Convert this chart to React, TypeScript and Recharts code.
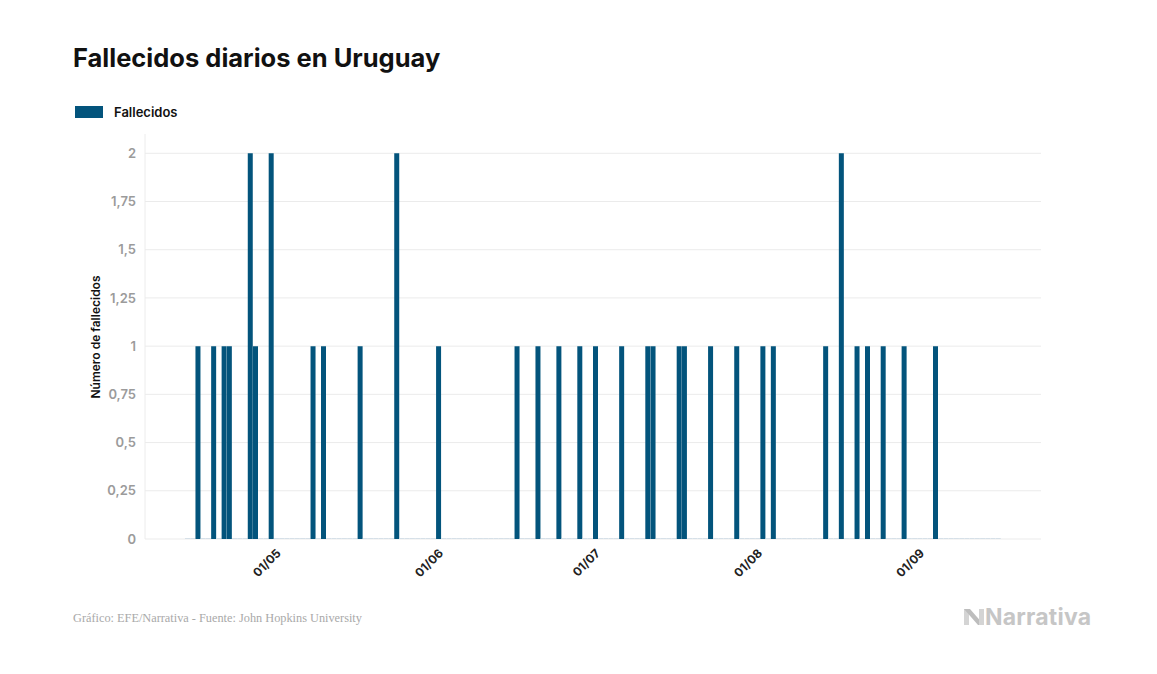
import { BarChart, Bar, XAxis, YAxis, CartesianGrid, Cell } from 'recharts';

// Fallecidos por día, 13/04 al 15/09
const MONTHS = ['04', '05', '06', '07', '08', '09'];
const FIRST_DAY = [13, 1, 1, 1, 1, 1];

const DEATHS_APR = [0, 0, 1, 0, 0, 1, 0, 1, 1, 0, 0, 0, 2, 1, 0, 0, 2, 0];
const DEATHS_MAY = [
  0, 0, 0, 0, 0, 0, 1, 0, 1, 0,
  0, 0, 0, 0, 0, 1, 0, 0, 0, 0,
  0, 0, 2, 0, 0, 0, 0, 0, 0, 0,
  1,
];
const DEATHS_JUN = [
  0, 0, 0, 0, 0, 0, 0, 0, 0, 0,
  0, 0, 0, 0, 1, 0, 0, 0, 1, 0,
  0, 0, 1, 0, 0, 0, 1, 0, 0, 1,
];
const DEATHS_JUL = [
  0, 0, 0, 0, 1, 0, 0, 0, 0, 1,
  1, 0, 0, 0, 0, 1, 1, 0, 0, 0,
  0, 1, 0, 0, 0, 0, 1, 0, 0, 0,
  0,
];
const DEATHS_AUG = [
  1, 0, 1, 0, 0, 0, 0, 0, 0, 0,
  0, 0, 1, 0, 0, 2, 0, 0, 1, 0,
  1, 0, 0, 1, 0, 0, 0, 1, 0, 0,
  0,
];
const DEATHS_SEP = [0, 0, 1, 0, 0, 0, 0, 0, 0, 0, 0, 0, 0, 0, 0];

const DEATHS = [DEATHS_APR, DEATHS_MAY, DEATHS_JUN, DEATHS_JUL, DEATHS_AUG, DEATHS_SEP];

const X_TICKS = ['01/05', '01/06', '01/07', '01/08', '01/09'];
const Y_TICKS = [0, 0.25, 0.5, 0.75, 1, 1.25, 1.5, 1.75, 2];
const Y_MAX = 2.1;

const pad = (n: number) => (n < 10 ? `0${n}` : `${n}`);

const data = MONTHS.flatMap((m, i) =>
  DEATHS[i].map((v, j) => ({ fecha: `${pad(FIRST_DAY[i] + j)}/${m}`, fallecidos: v }))
);

const BLUE = '#03547c';
const FONT = 'Inter, "Noto Sans", sans-serif';
const PLOT_TOP = 134;

const MonthTick = ({ x, y, payload }: any) => (
  <g transform={`translate(${x - 3},${y + 12})`}>
    <text
      transform="rotate(-45)"
      textAnchor="end"
      dy="0.35em"
      fill="#222"
      fontSize={12}
      fontWeight={700}
      fontFamily={FONT}
    >
      {payload.value}
    </text>
  </g>
);

// grid lines only at the tick values (no line along the top of the plot)
const gridRows = ({ yAxis, offset }: any) => {
  const sc = yAxis && yAxis.scale;
  if (typeof sc === 'function') return Y_TICKS.map((t) => sc(t));
  if (sc && typeof sc.map === 'function') return Y_TICKS.map((t) => sc.map(t));
  return Y_TICKS.map((t) => offset.top + offset.height * (1 - t / Y_MAX));
};

const GridRow = (props: any) => {
  const { x1, x2, y1, y2 } = props;
  if (y1 <= PLOT_TOP + 1) return <g />;
  return <line x1={x1} x2={x2} y1={y1} y2={y2} stroke="#ebebeb" strokeWidth={1} fill="none" />;
};

const App = () => {
  return (
    <div style={{ position: 'absolute', left: 0, top: 0, width: 1157, height: 674, background: '#fff', fontFamily: FONT }}>
      <div style={{ position: 'absolute', left: 73, top: 42, fontSize: 25.5, fontWeight: 700, color: '#111', whiteSpace: 'nowrap' }}>
        Fallecidos diarios en Uruguay
      </div>

      <div style={{ position: 'absolute', left: 75, top: 104, display: 'flex', alignItems: 'center' }}>
        <div style={{ width: 28, height: 12, background: BLUE }} />
        <span style={{ marginLeft: 11, fontSize: 13, fontWeight: 600, color: '#111' }}>Fallecidos</span>
      </div>

      <div
        style={{
          position: 'absolute',
          left: 95,
          top: 337,
          transform: 'translate(-50%, -50%) rotate(-90deg)',
          fontSize: 12,
          fontWeight: 600,
          color: '#111',
          whiteSpace: 'nowrap',
        }}
      >
        Número de fallecidos
      </div>

      <div style={{ position: 'absolute', left: 0, top: 0 }}>
        <BarChart
          width={1157}
          height={674}
          data={data}
          margin={{ top: PLOT_TOP, right: 116, bottom: 75, left: 85 }}
          barCategoryGap={0}
        >
          <CartesianGrid
            vertical={false}
            stroke="#ebebeb"
            horizontal={GridRow}
            horizontalCoordinatesGenerator={gridRows}
          />
          <XAxis
            dataKey="fecha"
            ticks={X_TICKS}
            interval={0}
            axisLine={false}
            tickLine={false}
            tickSize={0}
            tickMargin={0}
            height={60}
            padding={{ left: 40, right: 40 }}
            tick={<MonthTick />}
          />
          <YAxis
            width={60}
            domain={[0, Y_MAX]}
            ticks={Y_TICKS}
            interval={0}
            tickLine={false}
            tickSize={0}
            tickMargin={9}
            axisLine={{ stroke: '#ececec' }}
            tickFormatter={(v: number) => String(v).replace('.', ',')}
            tick={{ fill: '#9b9b9b', fontSize: 13, fontWeight: 600, fontFamily: FONT }}
          />
          <Bar dataKey="fallecidos" fill={BLUE} minPointSize={1} isAnimationActive={false}>
            {data.map((d, i) => (
              <Cell key={`cell-${i}`} fill={d.fallecidos === 0 ? '#d6e0e8' : BLUE} />
            ))}
          </Bar>
        </BarChart>
      </div>

      <div style={{ position: 'absolute', left: 73, top: 611, fontFamily: '"Liberation Serif", serif', fontSize: 12.3, color: '#a9a9a9', whiteSpace: 'nowrap' }}>
        Gráfico: EFE/Narrativa - Fuente: John Hopkins University
      </div>

      <div style={{ position: 'absolute', left: 964, top: 603, display: 'flex', alignItems: 'center', color: '#c6c6c6' }}>
        <svg width={20} height={20} viewBox="0 0 20 20">
          <polygon points="0,2 5,2 5,18 0,18" fill="#d4d4d4" />
          <polygon points="0,2 6,2 20,18 14,18" fill="#bdbdbd" />
          <polygon points="15,2 20,2 20,18 15,18" fill="#d4d4d4" />
        </svg>
        <span style={{ marginLeft: 1, fontSize: 23, fontWeight: 700, letterSpacing: 0.2 }}>Narrativa</span>
      </div>
    </div>
  );
};

export default App;
